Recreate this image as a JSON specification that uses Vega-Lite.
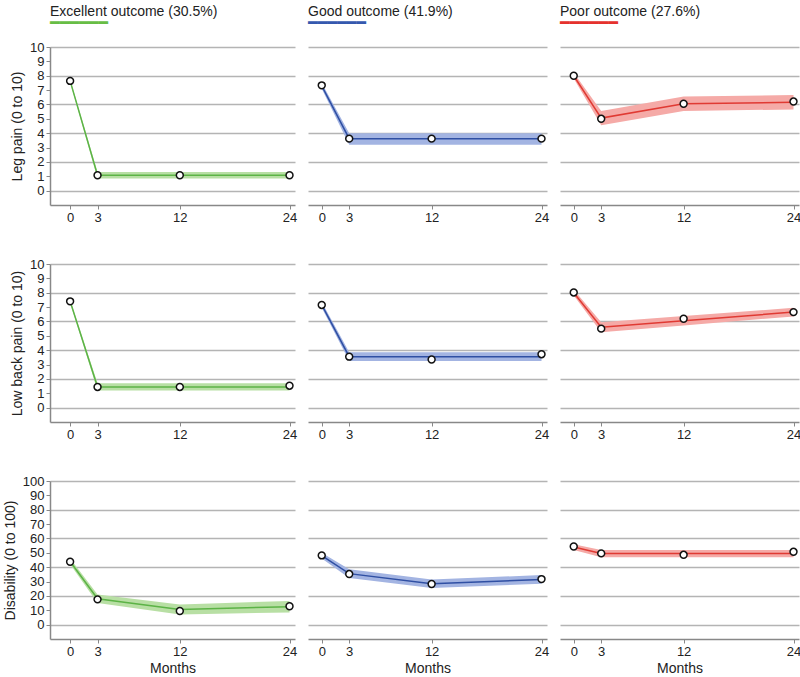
{
  "$schema": "https://vega.github.io/schema/vega-lite/v6.json",
  "background": "white",
  "padding": {"top": 5, "left": 3, "right": 2, "bottom": 2},
  "data": {
    "values": [
      {"g": "E", "m": "leg", "month": 0, "fit": 7.64, "lo": 7.54, "hi": 7.74, "obs": 7.64},
      {"g": "E", "m": "leg", "month": 3, "fit": 1.07, "lo": 0.85, "hi": 1.29, "obs": 1.07},
      {"g": "E", "m": "leg", "month": 12, "fit": 1.07, "lo": 0.85, "hi": 1.29, "obs": 1.07},
      {"g": "E", "m": "leg", "month": 24, "fit": 1.07, "lo": 0.85, "hi": 1.29, "obs": 1.07},
      {"g": "G", "m": "leg", "month": 0, "fit": 7.3, "lo": 7.1, "hi": 7.5, "obs": 7.33},
      {"g": "G", "m": "leg", "month": 3, "fit": 3.62, "lo": 3.2, "hi": 4.0, "obs": 3.62},
      {"g": "G", "m": "leg", "month": 12, "fit": 3.62, "lo": 3.2, "hi": 4.0, "obs": 3.62},
      {"g": "G", "m": "leg", "month": 24, "fit": 3.62, "lo": 3.2, "hi": 4.0, "obs": 3.62},
      {"g": "P", "m": "leg", "month": 0, "fit": 8.0, "lo": 7.8, "hi": 8.2, "obs": 8.0},
      {"g": "P", "m": "leg", "month": 3, "fit": 5.05, "lo": 4.55, "hi": 5.55, "obs": 5.0},
      {"g": "P", "m": "leg", "month": 12, "fit": 6.05, "lo": 5.55, "hi": 6.55, "obs": 6.05},
      {"g": "P", "m": "leg", "month": 24, "fit": 6.15, "lo": 5.65, "hi": 6.65, "obs": 6.2},
      {"g": "E", "m": "lbp", "month": 0, "fit": 7.4, "lo": 7.3, "hi": 7.5, "obs": 7.4},
      {"g": "E", "m": "lbp", "month": 3, "fit": 1.44, "lo": 1.2, "hi": 1.7, "obs": 1.44},
      {"g": "E", "m": "lbp", "month": 12, "fit": 1.44, "lo": 1.2, "hi": 1.7, "obs": 1.44},
      {"g": "E", "m": "lbp", "month": 24, "fit": 1.44, "lo": 1.2, "hi": 1.7, "obs": 1.53},
      {"g": "G", "m": "lbp", "month": 0, "fit": 7.15, "lo": 6.95, "hi": 7.35, "obs": 7.15},
      {"g": "G", "m": "lbp", "month": 3, "fit": 3.55, "lo": 3.25, "hi": 3.85, "obs": 3.55},
      {"g": "G", "m": "lbp", "month": 12, "fit": 3.55, "lo": 3.25, "hi": 3.85, "obs": 3.35},
      {"g": "G", "m": "lbp", "month": 24, "fit": 3.55, "lo": 3.25, "hi": 3.85, "obs": 3.72},
      {"g": "P", "m": "lbp", "month": 0, "fit": 8.0, "lo": 7.8, "hi": 8.2, "obs": 8.02},
      {"g": "P", "m": "lbp", "month": 3, "fit": 5.6, "lo": 5.25, "hi": 5.95, "obs": 5.5},
      {"g": "P", "m": "lbp", "month": 12, "fit": 6.05, "lo": 5.72, "hi": 6.38, "obs": 6.19},
      {"g": "P", "m": "lbp", "month": 24, "fit": 6.65, "lo": 6.35, "hi": 6.95, "obs": 6.65},
      {"g": "E", "m": "dis", "month": 0, "fit": 44, "lo": 42, "hi": 46, "obs": 43.8},
      {"g": "E", "m": "dis", "month": 3, "fit": 18, "lo": 15, "hi": 21, "obs": 17.6},
      {"g": "E", "m": "dis", "month": 12, "fit": 10.5, "lo": 7, "hi": 14, "obs": 9.5},
      {"g": "E", "m": "dis", "month": 24, "fit": 12.5, "lo": 8.5, "hi": 16.5, "obs": 12.8},
      {"g": "G", "m": "dis", "month": 0, "fit": 48, "lo": 46, "hi": 50, "obs": 48.2},
      {"g": "G", "m": "dis", "month": 3, "fit": 35.5, "lo": 32.5, "hi": 38.5, "obs": 35.2},
      {"g": "G", "m": "dis", "month": 12, "fit": 28.5, "lo": 25.5, "hi": 31.5, "obs": 28.3},
      {"g": "G", "m": "dis", "month": 24, "fit": 31.5, "lo": 28.5, "hi": 34.5, "obs": 31.7},
      {"g": "P", "m": "dis", "month": 0, "fit": 54, "lo": 52, "hi": 56, "obs": 54.4},
      {"g": "P", "m": "dis", "month": 3, "fit": 49.5, "lo": 47, "hi": 52, "obs": 49.6},
      {"g": "P", "m": "dis", "month": 12, "fit": 49.5, "lo": 47, "hi": 52, "obs": 48.6},
      {"g": "P", "m": "dis", "month": 24, "fit": 49.5, "lo": 47, "hi": 52, "obs": 50.7}
    ]
  },
  "vconcat": [
    {
      "hconcat": [
        {
          "width": 245, "height": 158,
          "title": {"text": "Excellent outcome (30.5%)", "subtitle": "━━━━━━", "subtitleColor": "#67bd45", "offset": 10},
          "transform": [{"filter": "datum.g === 'E' && datum.m === 'leg'"}],
          "encoding": {"x": {"field": "month", "type": "quantitative", "scale": {"domain": [-2.2, 24.6], "nice": false, "zero": false}, "axis": {"values": [0, 3, 12, 24], "title": null}}},
          "layer": [
            {"mark": {"type": "area", "color": "#b8dfa4"}, "encoding": {"y": {"field": "lo", "type": "quantitative", "scale": {"domain": [-1, 10], "nice": false, "zero": false}, "axis": {"title": "Leg pain (0 to 10)", "values": [0, 1, 2, 3, 4, 5, 6, 7, 8, 9, 10], "grid": true, "gridOpacity": {"condition": {"test": "datum.value % 2 === 0", "value": 1}, "value": 0}}}, "y2": {"field": "hi"}}},
            {"mark": {"type": "line", "color": "#5cb346", "strokeWidth": 1.5}, "encoding": {"y": {"field": "fit", "type": "quantitative", "axis": {"title": "Leg pain (0 to 10)", "values": [0, 1, 2, 3, 4, 5, 6, 7, 8, 9, 10], "grid": true, "gridOpacity": {"condition": {"test": "datum.value % 2 === 0", "value": 1}, "value": 0}}}}},
            {"mark": {"type": "point", "shape": "circle", "filled": true, "fill": "white", "stroke": "#111", "strokeWidth": 1.5, "size": 48, "opacity": 1}, "encoding": {"y": {"field": "obs", "type": "quantitative", "axis": {"title": "Leg pain (0 to 10)", "values": [0, 1, 2, 3, 4, 5, 6, 7, 8, 9, 10], "grid": true, "gridOpacity": {"condition": {"test": "datum.value % 2 === 0", "value": 1}, "value": 0}}}}}
          ]
        },
        {
          "width": 239, "height": 158,
          "title": {"text": "Good outcome (41.9%)", "subtitle": "━━━━━━", "subtitleColor": "#3558ae", "offset": 16},
          "transform": [{"filter": "datum.g === 'G' && datum.m === 'leg'"}],
          "encoding": {"x": {"field": "month", "type": "quantitative", "scale": {"domain": [-1.5, 24.6], "nice": false, "zero": false}, "axis": {"values": [0, 3, 12, 24], "title": null}}},
          "layer": [
            {"mark": {"type": "area", "color": "#a3b4e2"}, "encoding": {"y": {"field": "lo", "type": "quantitative", "scale": {"domain": [-1, 10], "nice": false, "zero": false}, "axis": {"title": null, "values": [0, 2, 4, 6, 8, 10], "labels": false, "ticks": false, "domain": false}}, "y2": {"field": "hi"}}},
            {"mark": {"type": "line", "color": "#2f4fa3", "strokeWidth": 1.5}, "encoding": {"y": {"field": "fit", "type": "quantitative", "axis": {"title": null, "values": [0, 2, 4, 6, 8, 10], "labels": false, "ticks": false, "domain": false}}}},
            {"mark": {"type": "point", "shape": "circle", "filled": true, "fill": "white", "stroke": "#111", "strokeWidth": 1.5, "size": 48, "opacity": 1}, "encoding": {"y": {"field": "obs", "type": "quantitative", "axis": {"title": null, "values": [0, 2, 4, 6, 8, 10], "labels": false, "ticks": false, "domain": false}}}}
          ]
        },
        {
          "width": 239, "height": 158,
          "title": {"text": "Poor outcome (27.6%)", "subtitle": "━━━━━━", "subtitleColor": "#e5312d", "offset": 16},
          "transform": [{"filter": "datum.g === 'P' && datum.m === 'leg'"}],
          "encoding": {"x": {"field": "month", "type": "quantitative", "scale": {"domain": [-1.5, 24.6], "nice": false, "zero": false}, "axis": {"values": [0, 3, 12, 24], "title": null}}},
          "layer": [
            {"mark": {"type": "area", "color": "#f5aaa7"}, "encoding": {"y": {"field": "lo", "type": "quantitative", "scale": {"domain": [-1, 10], "nice": false, "zero": false}, "axis": {"title": null, "values": [0, 2, 4, 6, 8, 10], "labels": false, "ticks": false, "domain": false}}, "y2": {"field": "hi"}}},
            {"mark": {"type": "line", "color": "#e03a33", "strokeWidth": 1.5}, "encoding": {"y": {"field": "fit", "type": "quantitative", "axis": {"title": null, "values": [0, 2, 4, 6, 8, 10], "labels": false, "ticks": false, "domain": false}}}},
            {"mark": {"type": "point", "shape": "circle", "filled": true, "fill": "white", "stroke": "#111", "strokeWidth": 1.5, "size": 48, "opacity": 1}, "encoding": {"y": {"field": "obs", "type": "quantitative", "axis": {"title": null, "values": [0, 2, 4, 6, 8, 10], "labels": false, "ticks": false, "domain": false}}}}
          ]
        }
      ]
    },
    {
      "hconcat": [
        {
          "width": 245, "height": 158,
          "transform": [{"filter": "datum.g === 'E' && datum.m === 'lbp'"}],
          "encoding": {"x": {"field": "month", "type": "quantitative", "scale": {"domain": [-2.2, 24.6], "nice": false, "zero": false}, "axis": {"values": [0, 3, 12, 24], "title": null}}},
          "layer": [
            {"mark": {"type": "area", "color": "#b8dfa4"}, "encoding": {"y": {"field": "lo", "type": "quantitative", "scale": {"domain": [-1, 10], "nice": false, "zero": false}, "axis": {"title": "Low back pain (0 to 10)", "values": [0, 1, 2, 3, 4, 5, 6, 7, 8, 9, 10], "grid": true, "gridOpacity": {"condition": {"test": "datum.value % 2 === 0", "value": 1}, "value": 0}}}, "y2": {"field": "hi"}}},
            {"mark": {"type": "line", "color": "#5cb346", "strokeWidth": 1.5}, "encoding": {"y": {"field": "fit", "type": "quantitative", "axis": {"title": "Low back pain (0 to 10)", "values": [0, 1, 2, 3, 4, 5, 6, 7, 8, 9, 10], "grid": true, "gridOpacity": {"condition": {"test": "datum.value % 2 === 0", "value": 1}, "value": 0}}}}},
            {"mark": {"type": "point", "shape": "circle", "filled": true, "fill": "white", "stroke": "#111", "strokeWidth": 1.5, "size": 48, "opacity": 1}, "encoding": {"y": {"field": "obs", "type": "quantitative", "axis": {"title": "Low back pain (0 to 10)", "values": [0, 1, 2, 3, 4, 5, 6, 7, 8, 9, 10], "grid": true, "gridOpacity": {"condition": {"test": "datum.value % 2 === 0", "value": 1}, "value": 0}}}}}
          ]
        },
        {
          "width": 239, "height": 158,
          "transform": [{"filter": "datum.g === 'G' && datum.m === 'lbp'"}],
          "encoding": {"x": {"field": "month", "type": "quantitative", "scale": {"domain": [-1.5, 24.6], "nice": false, "zero": false}, "axis": {"values": [0, 3, 12, 24], "title": null}}},
          "layer": [
            {"mark": {"type": "area", "color": "#a3b4e2"}, "encoding": {"y": {"field": "lo", "type": "quantitative", "scale": {"domain": [-1, 10], "nice": false, "zero": false}, "axis": {"title": null, "values": [0, 2, 4, 6, 8, 10], "labels": false, "ticks": false, "domain": false}}, "y2": {"field": "hi"}}},
            {"mark": {"type": "line", "color": "#2f4fa3", "strokeWidth": 1.5}, "encoding": {"y": {"field": "fit", "type": "quantitative", "axis": {"title": null, "values": [0, 2, 4, 6, 8, 10], "labels": false, "ticks": false, "domain": false}}}},
            {"mark": {"type": "point", "shape": "circle", "filled": true, "fill": "white", "stroke": "#111", "strokeWidth": 1.5, "size": 48, "opacity": 1}, "encoding": {"y": {"field": "obs", "type": "quantitative", "axis": {"title": null, "values": [0, 2, 4, 6, 8, 10], "labels": false, "ticks": false, "domain": false}}}}
          ]
        },
        {
          "width": 239, "height": 158,
          "transform": [{"filter": "datum.g === 'P' && datum.m === 'lbp'"}],
          "encoding": {"x": {"field": "month", "type": "quantitative", "scale": {"domain": [-1.5, 24.6], "nice": false, "zero": false}, "axis": {"values": [0, 3, 12, 24], "title": null}}},
          "layer": [
            {"mark": {"type": "area", "color": "#f5aaa7"}, "encoding": {"y": {"field": "lo", "type": "quantitative", "scale": {"domain": [-1, 10], "nice": false, "zero": false}, "axis": {"title": null, "values": [0, 2, 4, 6, 8, 10], "labels": false, "ticks": false, "domain": false}}, "y2": {"field": "hi"}}},
            {"mark": {"type": "line", "color": "#e03a33", "strokeWidth": 1.5}, "encoding": {"y": {"field": "fit", "type": "quantitative", "axis": {"title": null, "values": [0, 2, 4, 6, 8, 10], "labels": false, "ticks": false, "domain": false}}}},
            {"mark": {"type": "point", "shape": "circle", "filled": true, "fill": "white", "stroke": "#111", "strokeWidth": 1.5, "size": 48, "opacity": 1}, "encoding": {"y": {"field": "obs", "type": "quantitative", "axis": {"title": null, "values": [0, 2, 4, 6, 8, 10], "labels": false, "ticks": false, "domain": false}}}}
          ]
        }
      ]
    },
    {
      "hconcat": [
        {
          "width": 245, "height": 158,
          "transform": [{"filter": "datum.g === 'E' && datum.m === 'dis'"}],
          "encoding": {"x": {"field": "month", "type": "quantitative", "scale": {"domain": [-2.2, 24.6], "nice": false, "zero": false}, "axis": {"values": [0, 3, 12, 24], "title": "Months"}}},
          "layer": [
            {"mark": {"type": "area", "color": "#b8dfa4"}, "encoding": {"y": {"field": "lo", "type": "quantitative", "scale": {"domain": [-10, 100], "nice": false, "zero": false}, "axis": {"title": "Disability (0 to 100)", "values": [0, 10, 20, 30, 40, 50, 60, 70, 80, 90, 100], "grid": true, "gridOpacity": {"condition": {"test": "datum.value % 20 === 0", "value": 1}, "value": 0}}}, "y2": {"field": "hi"}}},
            {"mark": {"type": "line", "color": "#5cb346", "strokeWidth": 1.5}, "encoding": {"y": {"field": "fit", "type": "quantitative", "axis": {"title": "Disability (0 to 100)", "values": [0, 10, 20, 30, 40, 50, 60, 70, 80, 90, 100], "grid": true, "gridOpacity": {"condition": {"test": "datum.value % 20 === 0", "value": 1}, "value": 0}}}}},
            {"mark": {"type": "point", "shape": "circle", "filled": true, "fill": "white", "stroke": "#111", "strokeWidth": 1.5, "size": 48, "opacity": 1}, "encoding": {"y": {"field": "obs", "type": "quantitative", "axis": {"title": "Disability (0 to 100)", "values": [0, 10, 20, 30, 40, 50, 60, 70, 80, 90, 100], "grid": true, "gridOpacity": {"condition": {"test": "datum.value % 20 === 0", "value": 1}, "value": 0}}}}}
          ]
        },
        {
          "width": 239, "height": 158,
          "transform": [{"filter": "datum.g === 'G' && datum.m === 'dis'"}],
          "encoding": {"x": {"field": "month", "type": "quantitative", "scale": {"domain": [-1.5, 24.6], "nice": false, "zero": false}, "axis": {"values": [0, 3, 12, 24], "title": "Months"}}},
          "layer": [
            {"mark": {"type": "area", "color": "#a3b4e2"}, "encoding": {"y": {"field": "lo", "type": "quantitative", "scale": {"domain": [-10, 100], "nice": false, "zero": false}, "axis": {"title": null, "values": [0, 20, 40, 60, 80, 100], "labels": false, "ticks": false, "domain": false}}, "y2": {"field": "hi"}}},
            {"mark": {"type": "line", "color": "#2f4fa3", "strokeWidth": 1.5}, "encoding": {"y": {"field": "fit", "type": "quantitative", "axis": {"title": null, "values": [0, 20, 40, 60, 80, 100], "labels": false, "ticks": false, "domain": false}}}},
            {"mark": {"type": "point", "shape": "circle", "filled": true, "fill": "white", "stroke": "#111", "strokeWidth": 1.5, "size": 48, "opacity": 1}, "encoding": {"y": {"field": "obs", "type": "quantitative", "axis": {"title": null, "values": [0, 20, 40, 60, 80, 100], "labels": false, "ticks": false, "domain": false}}}}
          ]
        },
        {
          "width": 239, "height": 158,
          "transform": [{"filter": "datum.g === 'P' && datum.m === 'dis'"}],
          "encoding": {"x": {"field": "month", "type": "quantitative", "scale": {"domain": [-1.5, 24.6], "nice": false, "zero": false}, "axis": {"values": [0, 3, 12, 24], "title": "Months"}}},
          "layer": [
            {"mark": {"type": "area", "color": "#f5aaa7"}, "encoding": {"y": {"field": "lo", "type": "quantitative", "scale": {"domain": [-10, 100], "nice": false, "zero": false}, "axis": {"title": null, "values": [0, 20, 40, 60, 80, 100], "labels": false, "ticks": false, "domain": false}}, "y2": {"field": "hi"}}},
            {"mark": {"type": "line", "color": "#e03a33", "strokeWidth": 1.5}, "encoding": {"y": {"field": "fit", "type": "quantitative", "axis": {"title": null, "values": [0, 20, 40, 60, 80, 100], "labels": false, "ticks": false, "domain": false}}}},
            {"mark": {"type": "point", "shape": "circle", "filled": true, "fill": "white", "stroke": "#111", "strokeWidth": 1.5, "size": 48, "opacity": 1}, "encoding": {"y": {"field": "obs", "type": "quantitative", "axis": {"title": null, "values": [0, 20, 40, 60, 80, 100], "labels": false, "ticks": false, "domain": false}}}}
          ]
        }
      ]
    }
  ],
  "spacing": 34,
  "config": {
    "font": "Liberation Sans",
    "view": {"stroke": null},
    "concat": {"spacing": 11},
    "axis": {
      "labelFont": "Liberation Sans",
      "labelFontSize": 13,
      "labelColor": "#222",
      "labelOverlap": false,
      "labelFlush": false,
      "labelPadding": 2,
      "titleFont": "Liberation Sans",
      "titleFontSize": 14,
      "titleFontWeight": "normal",
      "titleColor": "#222",
      "domainColor": "#888",
      "domainWidth": 1.5,
      "tickColor": "#888",
      "tickSize": 4,
      "gridColor": "#b4b4b4",
      "gridWidth": 1.5
    },
    "axisX": {"grid": false, "titleFontSize": 14, "titlePadding": 3},
    "axisY": {"grid": true, "titlePadding": 5},
    "title": {
      "anchor": "start",
      "frame": "group",
      "font": "Liberation Sans",
      "fontSize": 14,
      "fontWeight": "normal",
      "color": "#222",
      "subtitleFont": "DejaVu Sans",
      "subtitleFontSize": 16,
      "subtitlePadding": -4
    }
  }
}
